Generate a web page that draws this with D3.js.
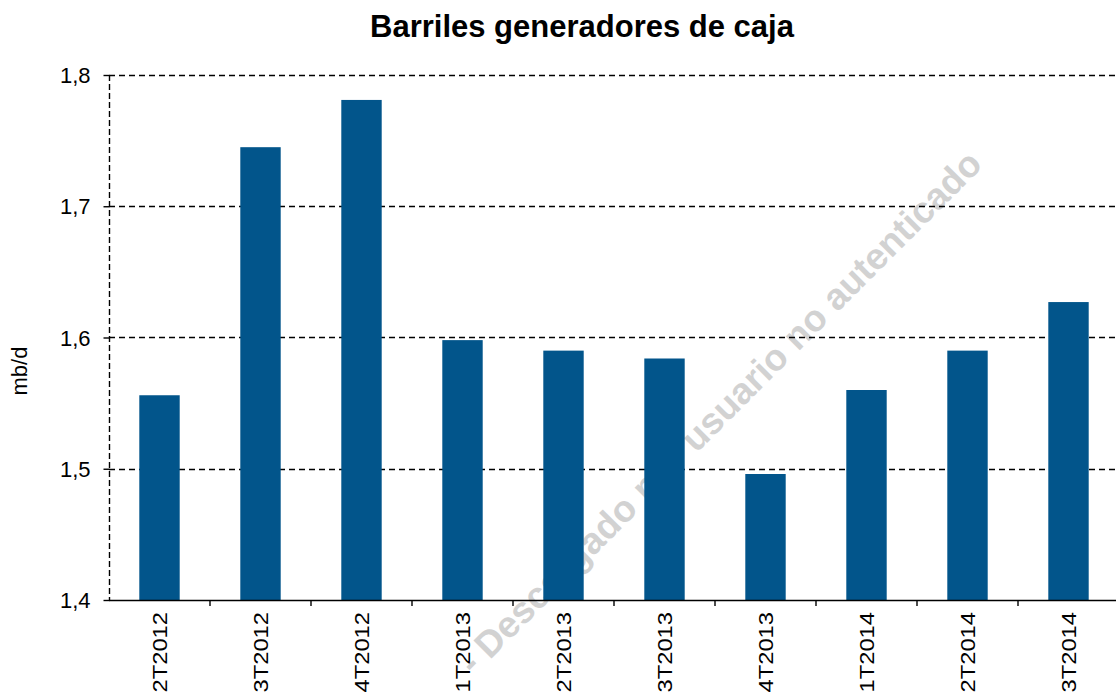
<!DOCTYPE html>
<html lang="es">
  <head>
    <meta charset="utf-8" />
    <script src="https://cdn.jsdelivr.net/npm/d3@7/dist/d3.min.js"></script>
    <title>Barriles generadores de caja</title>
    <style>
      body { margin: 0; background: #fff; }
      text { font-family: Arial, "Liberation Sans", sans-serif; }
      .grid line { stroke: #000; stroke-width: 1.4; stroke-dasharray: 6 4; }
    </style>
  </head>
  <body>
    <div id="container"></div>
    <script>
      const quarters = ["2T2012", "3T2012", "4T2012", "1T2013", "2T2013", "3T2013", "4T2013", "1T2014", "2T2014", "3T2014"];
      const barrels = [1.556, 1.745, 1.781, 1.598, 1.590, 1.584, 1.496, 1.560, 1.590, 1.627];
      const yTicks = [1.4, 1.5, 1.6, 1.7, 1.8];

      const width = 1116, height = 693;
      const m = { top: 75, left: 109, bottom: 600 };
      const svg = d3.select("#container").append("svg").attr("width", width).attr("height", height);

      const x = d3.scaleBand().domain(quarters).range([m.left, m.left + 1010]).paddingInner(0.6).paddingOuter(0.3);
      const y = d3.scaleLinear().domain([1.4, 1.8]).range([m.bottom, m.top]);
      const fmt = d => d3.format(".1f")(d).replace(".", ",");

      // watermark, sits behind the bars
      svg.append("text").attr("transform", "translate(984,166) rotate(-45)")
        .attr("text-anchor", "end").attr("font-size", 37).attr("font-weight", "bold")
        .attr("fill", "#d2d2d2")
        .text("- Descargado por usuario no autenticado");

      // dashed gridlines
      svg.append("g").attr("class", "grid")
        .selectAll("line").data(yTicks.slice(1)).join("line")
        .attr("x1", m.left).attr("x2", width)
        .attr("y1", d => Math.round(y(d)) + 0.5).attr("y2", d => Math.round(y(d)) + 0.5);

      // bars
      svg.append("g").selectAll("rect").data(barrels).join("rect")
        .attr("x", (d, i) => x(quarters[i]))
        .attr("width", x.bandwidth())
        .attr("y", d => y(d))
        .attr("height", d => y(1.4) - y(d))
        .attr("fill", "#02558b");

      // y axis: dashed line, solid ticks
      svg.append("line").attr("x1", m.left + 0.5).attr("x2", m.left + 0.5)
        .attr("y1", m.top).attr("y2", m.bottom)
        .attr("stroke", "#000").attr("stroke-width", 1.4).attr("stroke-dasharray", "6 3");
      const yAxis = svg.append("g").attr("transform", `translate(${m.left + 0.5},0)`)
        .call(d3.axisLeft(y).tickValues(yTicks).tickFormat(fmt).tickSize(6).tickPadding(13));
      yAxis.select(".domain").remove();
      yAxis.selectAll("line").attr("stroke-width", 1.4);
      yAxis.selectAll("text").attr("font-size", 22).attr("fill", "#000").attr("dy", "0.35em");

      // x axis with ticks between categories
      const step = x.step();
      const bounds = d3.range(1, quarters.length + 1).map(i => m.left + i * step);
      const xg = svg.append("g");
      xg.append("line").attr("x1", m.left).attr("x2", width)
        .attr("y1", m.bottom + 0.5).attr("y2", m.bottom + 0.5)
        .attr("stroke", "#000").attr("stroke-width", 1.6);
      xg.selectAll(".tk").data(bounds).join("line").attr("class", "tk")
        .attr("x1", d => d).attr("x2", d => d)
        .attr("y1", m.bottom).attr("y2", m.bottom + 6)
        .attr("stroke", "#000").attr("stroke-width", 1.4);
      xg.selectAll("text").data(quarters).join("text")
        .attr("transform", d => `translate(${x(d) + x.bandwidth() / 2 + 7},${m.bottom + 12}) rotate(-90) scale(1.13,1)`)
        .attr("text-anchor", "end")
        .attr("font-size", 21)
        .text(d => d);

      // titles
      svg.append("text").attr("x", 582).attr("y", 37).attr("text-anchor", "middle")
        .attr("font-size", 31).attr("font-weight", "bold").text("Barriles generadores de caja");
      svg.append("text").attr("transform", "translate(27,371) rotate(-90)")
        .attr("text-anchor", "middle").attr("font-size", 22).text("mb/d");
    </script>
  </body>
</html>
